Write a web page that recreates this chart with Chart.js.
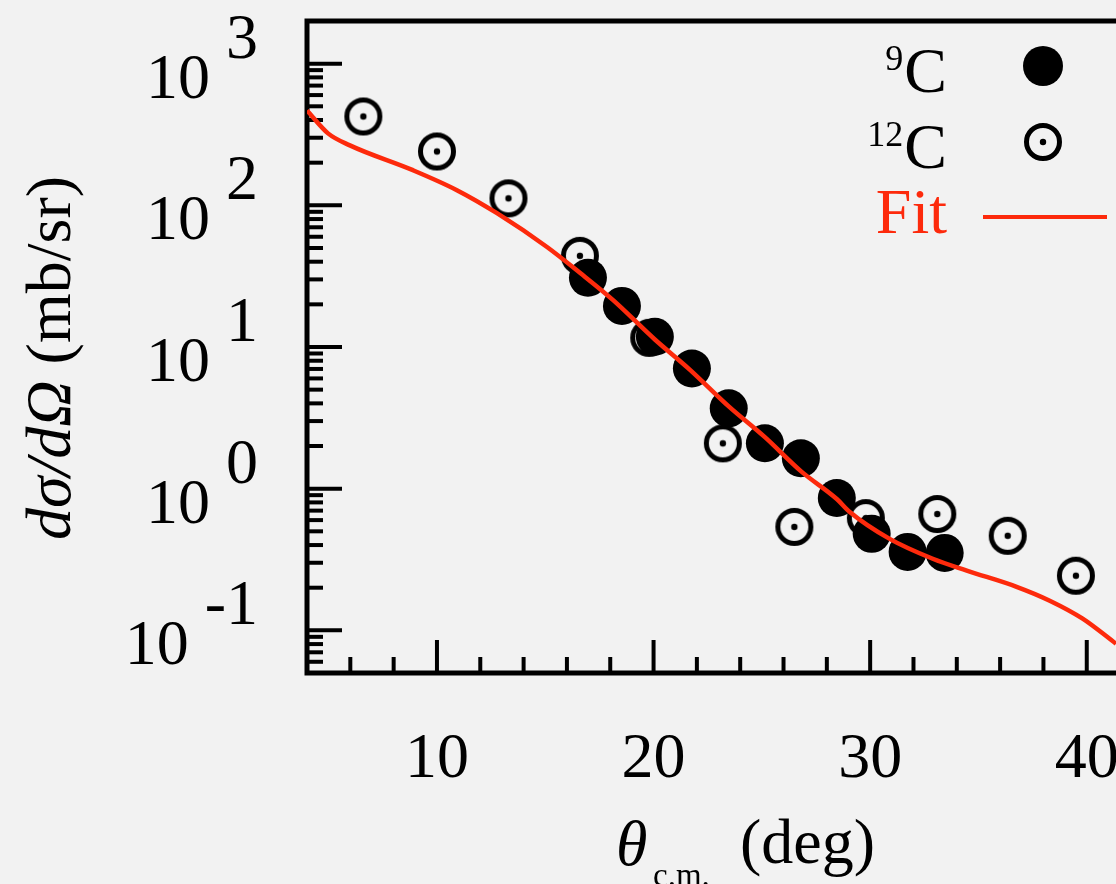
<!DOCTYPE html>
<html>
<head>
<meta charset="utf-8">
<script src="https://cdn.jsdelivr.net/npm/chart.js@4/dist/chart.umd.min.js"></script>
<style>
  html, body { margin: 0; padding: 0; background: #f2f2f2; }
  #wrap { width: 1116px; height: 884px; }
</style>
</head>
<body>
<div id="wrap"><canvas id="xsChart" width="1116" height="884"></canvas></div>
<script>
// 12C angular distribution (open circles)
const c12Angle = [6.6, 10.0, 13.3, 16.6, 19.8, 23.2, 26.5, 29.8, 33.1, 36.35, 39.5];
const c12Xsec = [424, 240, 112, 44, 11.6, 2.09, 0.537, 0.62, 0.662, 0.465, 0.243];

// 9C angular distribution (filled circles)
const c9Angle = [16.97, 18.54, 20.06, 21.77, 23.47, 25.14, 26.8, 28.46, 30.07, 31.73, 33.44];
const c9Xsec = [30.8, 19.5, 11.8, 7.05, 3.69, 2.09, 1.64, 0.86, 0.48, 0.358, 0.352];

// fitted curve
const fitAngle = [4.0, 4.97, 5.98, 8.89, 10.92, 12.77, 15.08, 16.6, 18.12, 20.06, 21.67, 23.47,
  25.14, 26.8, 28.46, 29.06, 30.9, 32.89, 34.46, 36.76, 38.29, 39.81, 41.35];
const fitXsec = [467, 322, 265, 177, 128, 88, 50.8, 33.4, 21.5, 11.3, 6.93, 3.81,
  2.31, 1.33, 0.845, 0.684, 0.442, 0.32, 0.264, 0.203, 0.162, 0.121, 0.0805];

// axis ticks
const yDecades = [-1, 0, 1, 2, 3];
const xTickLabels = [10, 20, 30, 40];
const xMinorStep = 2;

const RED = '#fd2a0c';
const SERIF = '"Liberation Serif", "DejaVu Serif", serif';

function pts(xs, ys) {
  return xs.map((x, i) => ({ x: x, y: ys[i] }));
}

// open circle with a dot in the middle
function ringMarker() {
  const c = document.createElement('canvas');
  c.width = 42; c.height = 42;
  const g = c.getContext('2d');
  g.strokeStyle = '#000';
  g.lineWidth = 5;
  g.beginPath(); g.arc(21, 21, 16.5, 0, Math.PI * 2); g.stroke();
  g.fillStyle = '#000';
  g.beginPath(); g.arc(21, 21, 3.2, 0, Math.PI * 2); g.fill();
  return c;
}
const ring = ringMarker();

// frame and inward ticks, drawn under the data
const framePlugin = {
  id: 'frame',
  beforeDatasetsDraw(chart) {
    const { ctx, chartArea: a, scales } = chart;
    const xs = scales.x, ys = scales.y;
    ctx.save();
    ctx.strokeStyle = '#000';
    ctx.lineCap = 'butt';

    // y ticks: decades long, 2..9 short
    ctx.lineWidth = 4;
    for (let d = -2; d <= 3; d++) {
      for (let k = 1; k <= 9; k++) {
        const v = k * Math.pow(10, d);
        if (v <= ys.min * 1.001 || v >= ys.max * 0.999) continue;
        const py = ys.getPixelForValue(v);
        const len = k === 1 ? 35 : 16;
        ctx.beginPath(); ctx.moveTo(a.left, py); ctx.lineTo(a.left + len, py); ctx.stroke();
      }
    }
    // x ticks
    for (let v = Math.ceil(xs.min / xMinorStep) * xMinorStep; v < xs.max; v += xMinorStep) {
      if (v <= xs.min) continue;
      const px = xs.getPixelForValue(v);
      const len = v % 10 === 0 ? 33 : 16;
      ctx.beginPath(); ctx.moveTo(px, a.bottom); ctx.lineTo(px, a.bottom - len); ctx.stroke();
    }

    // box (right side runs off the canvas)
    ctx.lineWidth = 5;
    ctx.beginPath();
    ctx.moveTo(chart.width, a.top);
    ctx.lineTo(a.left, a.top);
    ctx.lineTo(a.left, a.bottom);
    ctx.lineTo(chart.width, a.bottom);
    ctx.stroke();
    ctx.restore();
  },
  afterDraw(chart) {
    const { ctx, scales } = chart;
    const xs = scales.x, ys = scales.y;
    ctx.save();
    ctx.fillStyle = '#000';
    ctx.textBaseline = 'alphabetic';
    ctx.font = '64px ' + SERIF;

    // y tick labels as 10^n
    yDecades.forEach(d => {
      const py = ys.getPixelForValue(Math.pow(10, d));
      const exp = String(d);
      ctx.textAlign = 'right';
      ctx.fillText(exp, 258, py - 6);
      const ew = ctx.measureText(exp).width;
      ctx.fillText('10', 258 - ew - 16, py + 34);
    });

    // x tick labels
    ctx.textAlign = 'center';
    xTickLabels.forEach(v => {
      ctx.fillText(String(v), xs.getPixelForValue(v), 777);
    });

    // x title
    ctx.textAlign = 'left';
    ctx.font = 'italic 64px ' + SERIF;
    ctx.fillText('\u03b8', 616, 865);
    ctx.font = '33px ' + SERIF;
    ctx.fillText('c.m.', 653, 886);
    ctx.font = '64px ' + SERIF;
    ctx.fillText('(deg)', 740, 863);

    // y title, rotated
    ctx.save();
    ctx.translate(70, 358);
    ctx.rotate(-Math.PI / 2);
    const partA = 'd\u03c3/d\u03a9';
    const partB = ' (mb/sr)';
    ctx.font = 'italic 64px ' + SERIF;
    const wa = ctx.measureText(partA).width;
    ctx.font = '64px ' + SERIF;
    const wb = ctx.measureText(partB).width;
    const x0 = -(wa + wb) / 2;
    ctx.textAlign = 'left';
    ctx.font = 'italic 64px ' + SERIF;
    ctx.fillText(partA, x0, 0);
    ctx.font = '64px ' + SERIF;
    ctx.fillText(partB, x0 + wa, 0);
    ctx.restore();

    // legend
    const legendRows = [
      { mass: '9', y: 92 },
      { mass: '12', y: 168 }
    ];
    legendRows.forEach(r => {
      ctx.textAlign = 'right';
      ctx.font = '64px ' + SERIF;
      ctx.fillText('C', 947, r.y);
      const cw = ctx.measureText('C').width;
      ctx.font = '36px ' + SERIF;
      ctx.fillText(r.mass, 947 - cw - 1, r.y - 22);
    });
    ctx.beginPath(); ctx.arc(1043, 66, 20, 0, Math.PI * 2); ctx.fill();
    ctx.drawImage(ring, 1043 - ring.width / 2, 142 - ring.height / 2);

    ctx.fillStyle = RED;
    ctx.font = '64px ' + SERIF;
    ctx.textAlign = 'right';
    ctx.fillText('Fit', 947, 233);
    ctx.strokeStyle = RED;
    ctx.lineWidth = 4;
    ctx.beginPath(); ctx.moveTo(983, 217); ctx.lineTo(1107, 217); ctx.stroke();
    ctx.restore();
  }
};

new Chart(document.getElementById('xsChart'), {
  type: 'scatter',
  data: {
    datasets: [
      {
        label: 'Fit',
        type: 'line',
        data: pts(fitAngle, fitXsec),
        borderColor: RED,
        borderWidth: 4.5,
        pointRadius: 0,
        cubicInterpolationMode: 'monotone',
        fill: false,
        order: 0
      },
      {
        label: '9C',
        data: pts(c9Angle, c9Xsec),
        pointRadius: 19,
        pointHoverRadius: 19,
        backgroundColor: '#000',
        borderWidth: 0,
        order: 1
      },
      {
        label: '12C',
        data: pts(c12Angle, c12Xsec),
        pointStyle: ring,
        pointRadius: 19,
        order: 2
      }
    ]
  },
  options: {
    responsive: false,
    animation: false,
    events: [],
    layout: { autoPadding: false, padding: { left: 307, top: 21, right: 0, bottom: 884 - 673 } },
    plugins: {
      legend: { display: false },
      tooltip: { enabled: false }
    },
    scales: {
      x: { type: 'linear', min: 4, max: 41.35, display: false },
      y: { type: 'logarithmic', min: 0.05, max: 2000, display: false }
    }
  },
  plugins: [framePlugin]
});
</script>
</body>
</html>
